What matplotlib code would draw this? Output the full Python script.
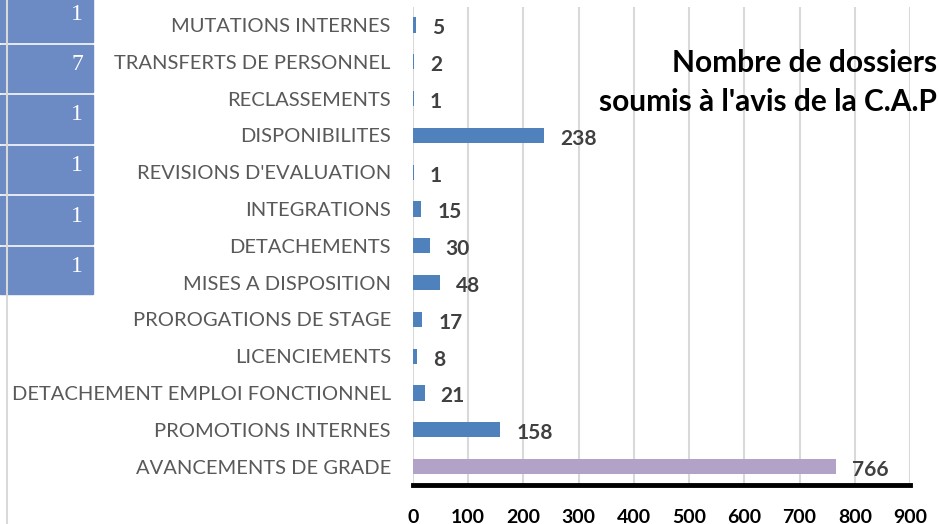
import matplotlib.pyplot as plt
from matplotlib.patches import Rectangle
from matplotlib.lines import Line2D

categories = ["MUTATIONS INTERNES", "TRANSFERTS DE PERSONNEL", "RECLASSEMENTS",
              "DISPONIBILITES", "REVISIONS D'EVALUATION", "INTEGRATIONS",
              "DETACHEMENTS", "MISES A DISPOSITION", "PROROGATIONS DE STAGE",
              "LICENCIEMENTS", "DETACHEMENT EMPLOI FONCTIONNEL",
              "PROMOTIONS INTERNES", "AVANCEMENTS DE GRADE"]
values = [5, 2, 1, 238, 1, 15, 30, 48, 17, 8, 21, 158, 766]
box_values = [1, 7, 1, 1, 1, 1]
xticks = [0, 100, 200, 300, 400, 500, 600, 700, 800, 900]

W, H = 939, 524
fig = plt.figure(figsize=(W / 100, H / 100), dpi=100)
plt.rcParams['font.family'] = ['Lato', 'DejaVu Sans']

ax = fig.add_axes([413 / W, 1 - 485 / H, (910 - 413) / W, (485 - 6.6) / H])

y = list(range(len(categories)))
colors = ['#4F81BD'] * (len(values) - 1) + ['#B3A2C7']
ax.barh(y, values, height=0.41, color=colors, zorder=3)
ax.set_ylim(len(categories) - 0.5, -0.5)
ax.set_xlim(0, 900)

for yi, v in zip(y, values):
    ax.annotate(str(v), (v, yi), xytext=(11.5, -2.5), textcoords='offset points',
                ha='left', va='center', fontsize=15, fontweight='bold',
                color='#404040')

ax.set_yticks(y)
ax.set_yticklabels(categories, fontsize=14.5, color='#595959')
ax.set_xticks(xticks)
ax.set_xticklabels([str(t) for t in xticks], fontsize=14, fontweight='bold',
                   color='black')
ax.tick_params(axis='y', length=0, pad=16)
ax.tick_params(axis='x', length=0, pad=17)
ax.grid(axis='x', color='#D9D9D9', linewidth=1.5, zorder=0)
for s in ['top', 'right', 'left']:
    ax.spines[s].set_visible(False)
ax.spines['bottom'].set_linewidth(3.5)
ax.spines['bottom'].set_color('black')
ax.spines['bottom'].set_zorder(4)

fig.text(937 / W, 1 - 63 / H, "Nombre de dossiers", ha='right', va='center',
         fontsize=21.5, fontweight='bold', color='black')
fig.text(937 / W, 1 - 102 / H, "soumis à l'avis de la C.A.P", ha='right',
         va='center', fontsize=21.5, fontweight='bold', color='black')

# chart border on the left
fig.add_artist(Line2D([7 / W, 7 / W], [0, 1], color='#D9D9D9', linewidth=1.5))

# blue boxes overlapping on the left
for i, bv in enumerate(box_values):
    top = -6 + i * 50.5
    bottom = top + 47.5
    fig.add_artist(Rectangle((0, 1 - bottom / H), 93 / W, 47.5 / H,
                             transform=fig.transFigure, color='#6C8AC3'))
    fig.text(83 / W, 1 - (top + 20) / H, str(bv), ha='right', va='center',
             fontsize=17, color='white', family=['Liberation Serif'])

fig.savefig('out.png', dpi=100)
